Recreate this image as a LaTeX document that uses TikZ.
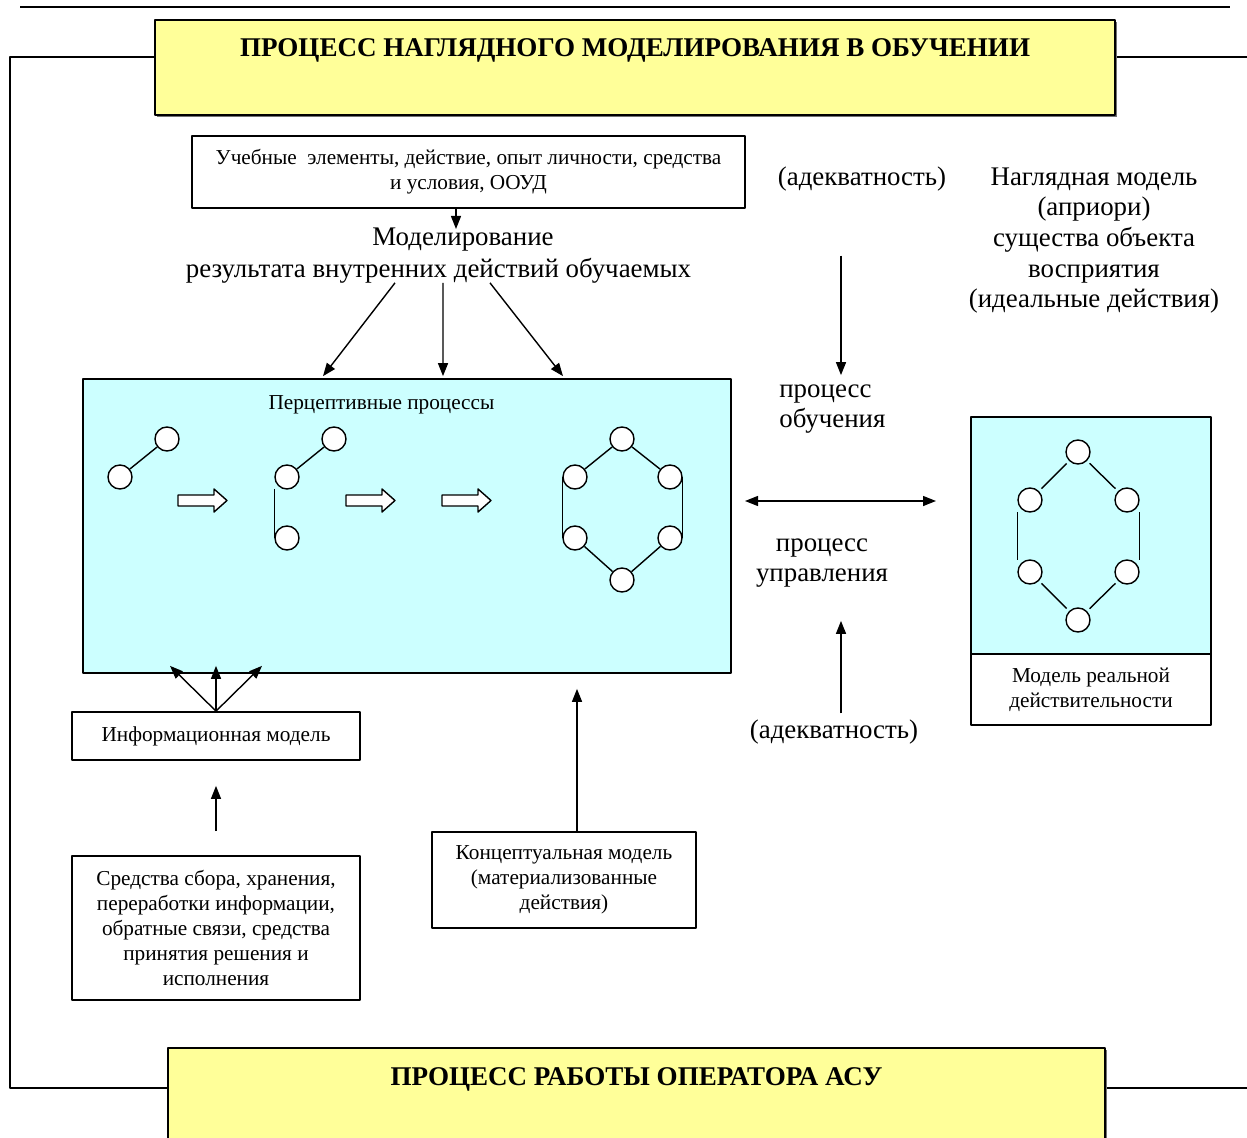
\documentclass[tikz,border=0pt]{standalone}
\usepackage{fontspec}
\setmainfont{Liberation Serif}
\usepackage{tikz}
\usetikzlibrary{arrows.meta,positioning,calc,shadows}

\definecolor{boxyellow}{HTML}{FFFF99}
\definecolor{boxcyan}{HTML}{CCFFFF}
\newcommand\smalltxt{\fontsize{12.1}{14.1}\selectfont}
\newcommand\bigtxt{\fontsize{15.3}{17.4}\selectfont}
\newcommand\headtxt{\fontsize{15.4}{17}\selectfont\bfseries}

\begin{document}
\begin{tikzpicture}[x=0.02cm,y=-0.02cm,>={Triangle[length=0.26cm,width=0.2cm]},line join=round,
    vert/.style={circle,draw,line width=0.8pt,fill=white,minimum size=0.48cm,inner sep=0pt},
    wbox/.style={draw,line width=1pt,fill=white,align=center,font=\smalltxt,inner sep=0pt},
    cbox/.style={draw,line width=1pt,fill=boxcyan,inner sep=0pt},
    ybox/.style={draw,line width=1pt,fill=boxyellow,inner sep=0pt,
      drop shadow={shadow xshift=1pt,shadow yshift=-1pt,opacity=1,fill=black!55}},
    lbl/.style={font=\bigtxt,inner sep=0pt,align=center},
    conn/.style={->,line width=0.8pt}]
  \useasboundingbox (0,0) rectangle (1247,1138);

  % outer frame
  \draw[line width=1.7pt] (20,7) -- (1230,7);
  \draw[line width=1pt] (155,57) -- (10,57) -- (10,1088) -- (168,1088);
  \draw[line width=1pt] (1115,57) -- (1247,57);
  \draw[line width=1pt] (1105,1088) -- (1247,1088);

  % yellow headers
  \node[ybox,minimum width=19.2cm,minimum height=1.9cm] (top) at (635,67.5) {};
  \node[font=\headtxt,inner sep=0pt] (toptxt) at (635,50) {ПРОЦЕСС НАГЛЯДНОГО МОДЕЛИРОВАНИЯ В ОБУЧЕНИИ};
  \node[ybox,minimum width=18.74cm,minimum height=2.2cm] (bot) at (636.5,1103) {};
  \node[font=\headtxt,inner sep=0pt] (bottxt) at (636.5,1079) {ПРОЦЕСС РАБОТЫ ОПЕРАТОРА АСУ};

  % upper part
  \node[wbox,minimum width=11.06cm,minimum height=1.44cm] (learnel) at (468.5,172)
    {Учебные\ \ элементы, действие, опыт личности, средства\\и условия, ООУД};
  \node[lbl] (mod1) at (463,240) {Моделирование};
  \node[lbl] (mod2) at (438.5,271) {результата внутренних действий обучаемых};
  \node[lbl] (adq1) at (862,179) {(адекватность)};
  \node[lbl] (ideal) at (1094,240.5) {Наглядная модель\\(априори)\\существа объекта\\восприятия\\(идеальные действия)};

  % perceptive processes
  \node[cbox,minimum width=12.96cm,minimum height=5.88cm] (percep) at (407,526) {};
  \node[font=\smalltxt,inner sep=0pt] (perctxt) at (381.5,405) {Перцептивные процессы};

  \node[vert] (a1) at (120,477) {};
  \node[vert] (a2) at (167,439) {};
  \draw[line width=0.8pt] (a1) -- (a2);

  \node[vert] (b1) at (287,477) {};
  \node[vert] (b2) at (334,439) {};
  \node[vert] (b3) at (287,538) {};
  \draw[line width=0.8pt] (b1) -- (b2);
  \draw[line width=0.8pt,shorten <=0.24cm] (b1.west) -- (b3.west);

  \node[vert] (h1) at (622,439) {};
  \node[vert] (h2) at (575,477) {};
  \node[vert] (h3) at (670,477) {};
  \node[vert] (h4) at (575,538) {};
  \node[vert] (h5) at (670,538) {};
  \node[vert] (h6) at (622,580) {};
  \draw[line width=0.8pt] (h2) -- (h1) -- (h3);
  \draw[line width=0.8pt] (h4) -- (h6) -- (h5);
  \draw[line width=0.8pt] (h2.west) -- (h4.west);
  \draw[line width=0.8pt] (h3.east) -- (h5.east);

  \foreach \x in {178,346,442}
    \draw[line width=0.8pt,fill=white] (\x,495) -- ++(36,0) -- ++(0,-6) -- ++(13,11.5)
      -- ++(-13,11.5) -- ++(0,-6) -- ++(-36,0) -- cycle;

  % real model
  \node[cbox,minimum width=4.8cm,minimum height=4.74cm] (rtop) at (1091,535.5) {};
  \node[wbox,minimum width=4.8cm,minimum height=1.42cm] (rbot) at (1091,689.5)
    {Модель реальной\\действительности};

  \node[vert] (r1) at (1078,452) {};
  \node[vert] (r2) at (1030,500) {};
  \node[vert] (r3) at (1127,500) {};
  \node[vert] (r4) at (1030,572) {};
  \node[vert] (r5) at (1127,572) {};
  \node[vert] (r6) at (1078,620) {};
  \draw[line width=0.8pt,shorten <=0.07cm,shorten >=0.07cm] (r2) -- (r1);
  \draw[line width=0.8pt,shorten <=0.07cm,shorten >=0.07cm] (r1) -- (r3);
  \draw[line width=0.8pt,shorten <=0.07cm,shorten >=0.07cm] (r4) -- (r6);
  \draw[line width=0.8pt,shorten <=0.07cm,shorten >=0.07cm] (r6) -- (r5);
  \draw[line width=0.8pt,shorten <=0.25cm,shorten >=0.25cm] (r2.west) -- (r4.west);
  \draw[line width=0.8pt,shorten <=0.25cm,shorten >=0.25cm] (r3.east) -- (r5.east);

  % middle labels
  \node[lbl,anchor=west,align=left] (learn) at (779,409) {процесс\\обучения};
  \node[lbl] (manage) at (822,563) {процесс\\управления};
  \node[lbl] (adq2) at (834,732) {(адекватность)};
  \coordinate (dl) at (745,501);
  \coordinate (dr) at (936,501);

  % lower boxes
  \node[wbox,minimum width=5.76cm,minimum height=0.96cm] (infom) at (216,736) {Информационная модель};
  \node[wbox,minimum width=5.76cm,minimum height=2.88cm] (means) at (216,928)
    {Средства сбора, хранения,\\переработки информации,\\обратные связи, средства\\принятия решения и\\исполнения};
  \node[wbox,minimum width=5.28cm,minimum height=1.92cm] (concept) at (564,880)
    {Концептуальная модель\\(материализованные\\действия)};

  % connectors
  \draw[conn] ($(learnel.south)+(-12.5,0)$) -- ($(mod1.north)+(-7,1)$);
  \draw[conn] ($(mod2.south)+(-43.5,-1)$) -- ($(percep.north)+(-84,-2)$);
  \draw[conn] ($(mod2.south)+(4.5,-1)$) -- ($(percep.north)+(36,-2)$);
  \draw[conn] ($(mod2.south)+(51.5,-1)$) -- ($(percep.north)+(156,-2)$);
  \draw[conn] ($(adq1.south)+(-21,64)$) -- ($(learn.north west)+(62,-9)$);
  \draw[<->,line width=0.8pt] (dl) -- (dr);
  \draw[conn] ($(adq2.north)+(7,-6)$) -- ($(manage.south)+(19,33)$);
  \draw[conn] (infom.north) -- ($(percep.south)+(-237,-8)$);
  \draw[conn] (infom.north) -- ($(percep.south)+(-191,-8)$);
  \draw[conn] (infom.north) -- ($(percep.south)+(-145,-8)$);
  \draw[conn] ($(means.north)+(0,-24)$) -- ($(infom.south)+(0,25)$);
  \draw[conn] ($(concept.north)+(13,0)$) -- ($(percep.south)+(170,15)$);
\end{tikzpicture}
\end{document}
